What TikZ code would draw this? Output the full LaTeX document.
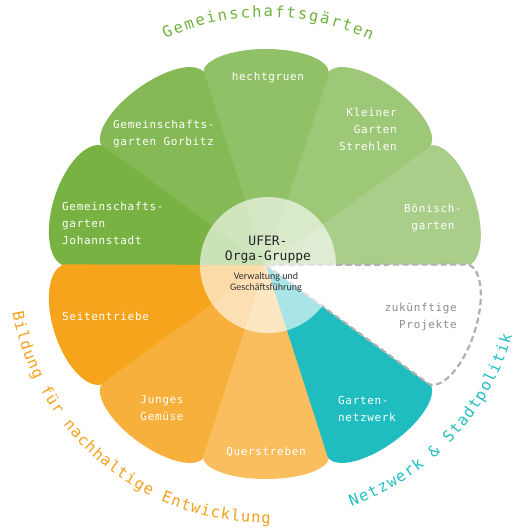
\documentclass[tikz,border=0pt]{standalone}
\usepackage{fontspec}
\usetikzlibrary{decorations.text}
\newfontfamily\monof[LetterSpace=6]{DejaVu Sans Mono}
\newfontfamily\arcf{DejaVu Sans Mono}
\newfontfamily\ctrf{DejaVu Sans Mono}
\newfontfamily\verwf{Carlito}
\definecolor{gA}{HTML}{78B242}
\definecolor{gB}{HTML}{84B955}
\definecolor{gC}{HTML}{91C167}
\definecolor{gD}{HTML}{9DC878}
\definecolor{gE}{HTML}{A8CE8A}
\definecolor{oA}{HTML}{F6A41B}
\definecolor{oB}{HTML}{F8B03C}
\definecolor{oC}{HTML}{FABE5F}
\definecolor{tA}{HTML}{1FBDBF}
\definecolor{dashgray}{HTML}{B0B0B0}
\definecolor{zukgray}{HTML}{8C8C8C}
\definecolor{gtext}{HTML}{6EB23C}
\definecolor{otext}{HTML}{F5A11A}
\definecolor{ttext}{HTML}{22BFC2}
\begin{document}
\begin{tikzpicture}[x=1pt,y=1pt,
  plab/.style={font=\monof\fontsize{11}{17}\selectfont, text=white, inner sep=0pt},
  zlab/.style={plab, text=zukgray},
  ctrlab/.style={font=\ctrf\fontsize{13}{14.5}\selectfont, text=black!85, inner sep=0pt, align=center},
  verwlab/.style={font=\verwf\fontsize{10}{11}\selectfont, text=black!80, inner sep=0pt, align=center},
  zukline/.style={draw=dashgray, line width=2.2pt, dash pattern=on 6pt off 3.5pt, fill=white},
  arctext/.style={decorate, decoration={text along path, text align={fit to path}, text color=#1}}
]
\useasboundingbox (-266,-266) rectangle (249,265);
\fill[white] (-266,-266) rectangle (249,265);
% petals
\foreach \m/\c/\b in {18/gE/27, 54/gD/26, 90/gC/24, 126/gB/26, 162/gA/30,
                      198/oA/30, 234/oB/26, 270/oC/22, 306/tA/26}{
  \pgfmathsetmacro\rr{\m-90}
  \fill[\c, rotate=\rr] (0,0) -- (63pt,192pt)
     arc[start angle=0, end angle=180, x radius=63pt, y radius=\b pt] -- cycle;
}
% future projects petal
\path[zukline, rotate=-108] (0,0) -- (63pt,192pt)
     arc[start angle=0, end angle=180, x radius=63pt, y radius=27pt] -- cycle;
% centre circle
\fill[white, opacity=0.62] (2,0) circle[radius=68pt];
% centre texts
\node[ctrlab] (ufer) at (2,15.5) {UFER-\\Orga-Gruppe};
\node[verwlab] (verw) at (0,-17) {Verwaltung und\\Geschäftsführung};
% petal labels
\node[plab] (hecht) at (2,187) {hechtgruen};
\node[plab, align=right, anchor=east] (kleiner) at (131,136) {Kleiner\\Garten\\Strehlen};
\node[plab, align=center] (boenisch) at (167,47) {Bönisch-\\garten};
\node[plab, align=left, anchor=west] (gorbitz) at (-153,130.5) {Gemeinschafts-\\garten Gorbitz};
\node[plab, align=left, anchor=west] (johann) at (-204,42) {Gemeinschafts-\\garten\\Johannstadt};
\node[plab, anchor=west] (seiten) at (-204,-51) {Seitentriebe};
\node[plab, align=center] (junges) at (-104,-143.5) {Junges\\Gemüse};
\node[plab] (quer) at (0,-187) {Querstreben};
\node[plab, align=left, anchor=west] (garten) at (72,-143.5) {Garten-\\netzwerk};
\node[zlab, align=right, anchor=east] (zuk) at (191,-51.5) {zukünftige\\Projekte};
% arc labels
\path[arctext=gtext, decoration={text={|\arcf\fontsize{15.5}{15.5}\selectfont|Gemeinschaftsgärten}}]
  (114:248pt) arc[start angle=114, end angle=65, radius=248pt];
\path[arctext=otext, decoration={text={|\arcf\fontsize{15.5}{15.5}\selectfont|Bildung für nachhaltige Entwicklung}}]
  (190.5:258pt) arc[start angle=190.5, end angle=271, radius=258pt];
\path[arctext=ttext, decoration={text={|\arcf\fontsize{15.5}{15.5}\selectfont|Netzwerk {\&} Stadtpolitik}}]
  (289.5:256pt) arc[start angle=289.5, end angle=344, radius=256pt];
\end{tikzpicture}
\end{document}
